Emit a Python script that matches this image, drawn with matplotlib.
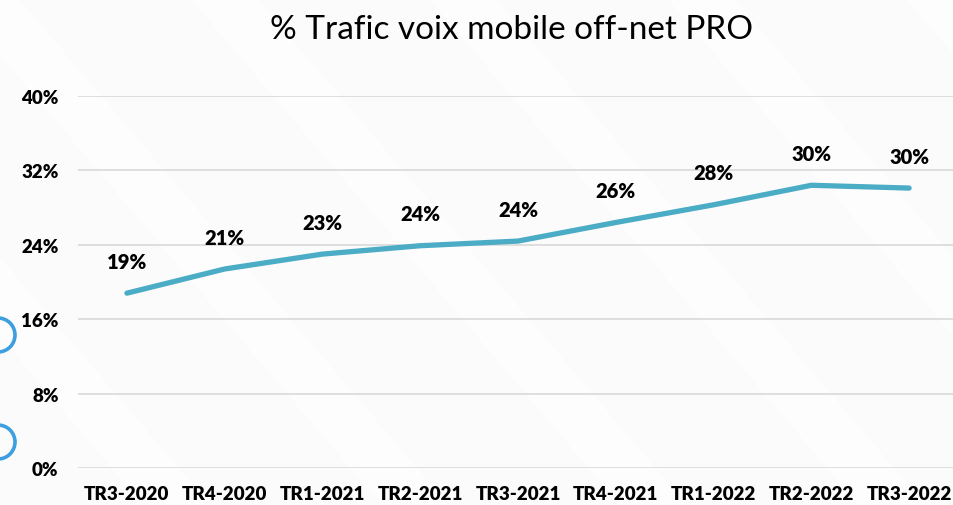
import matplotlib
matplotlib.use("Agg")
import matplotlib.pyplot as plt
from matplotlib.patches import Circle, Polygon

# Quarterly share of off-net mobile voice traffic (PRO segment), in %
quarters = ["TR3-2020", "TR4-2020", "TR1-2021", "TR2-2021", "TR3-2021",
            "TR4-2021", "TR1-2022", "TR2-2022", "TR3-2022"]
share_pct = [18.8, 21.4, 23.0, 23.9, 24.4, 26.4, 28.3, 30.4, 30.1]
y_ticks = [0, 8, 16, 24, 32, 40]

title = "% Trafic voix mobile off-net PRO"
font = "Lato"
line_color = "#4BACC6"
grid_color = "#d9d9d9"
bg_color = "#fbfbfb"

fig = plt.figure(figsize=(9.54, 5.06), dpi=100, facecolor=bg_color)

# faint diagonal bands in the slide background, drawn in a backdrop axes
bg_ax = fig.add_axes([0, 0, 1, 1], zorder=-5)
bg_ax.set_xlim(0, 1)
bg_ax.set_ylim(0, 1)
bg_ax.axis("off")
for x0 in [-0.30, -0.05, 0.20, 0.45, 0.70, 0.95]:
    band = Polygon([[x0, 1.0], [x0 + 0.07, 1.0], [x0 + 0.52, 0.0], [x0 + 0.45, 0.0]],
                   closed=True, facecolor="white", edgecolor="none", alpha=0.6)
    bg_ax.add_patch(band)

ax = fig.add_axes([0.0818, 0.0731, 0.9224, 0.7352])
ax.set_facecolor("none")

x = list(range(len(quarters)))
ax.plot(x, share_pct, color=line_color, linewidth=3.8, solid_capstyle="round",
        solid_joinstyle="round", zorder=3)

for xi, v in zip(x, share_pct):
    ax.annotate(f"{v:.0f}%", (xi, v), xytext=(0, 23), textcoords="offset points",
                ha="center", va="center", fontsize=14.5, fontweight="heavy",
                family=font, color="black")

ax.set_xlim(-0.5, len(quarters) - 0.5)
ax.set_ylim(0, 40)
ax.set_yticks(y_ticks)
ax.set_yticklabels([f"{t}%" for t in y_ticks])
ax.set_xticks(x)
ax.set_xticklabels(quarters)
ax.tick_params(axis="both", length=0, labelsize=13.5)
ax.tick_params(axis="y", pad=14)
ax.tick_params(axis="x", pad=12)
for lbl in ax.get_xticklabels() + ax.get_yticklabels():
    lbl.set_fontweight("heavy")
    lbl.set_family(font)
ax.grid(axis="y", color=grid_color, linewidth=1.2)
ax.set_axisbelow(True)
for s in ax.spines.values():
    s.set_visible(False)

fig.text(0.536, 0.94, title, ha="center", va="center", fontsize=24,
         family=font, color="black")

# decorative ring markers on the left slide margin
for cy in [336, 443]:
    ring = Circle((-2 / 100, (506 - cy) / 100), radius=17 / 100,
                  transform=fig.dpi_scale_trans, fill=False,
                  edgecolor="#3d9fdf", linewidth=2.6)
    fig.patches.append(ring)

fig.savefig("out.png", dpi=100, facecolor=bg_color)
